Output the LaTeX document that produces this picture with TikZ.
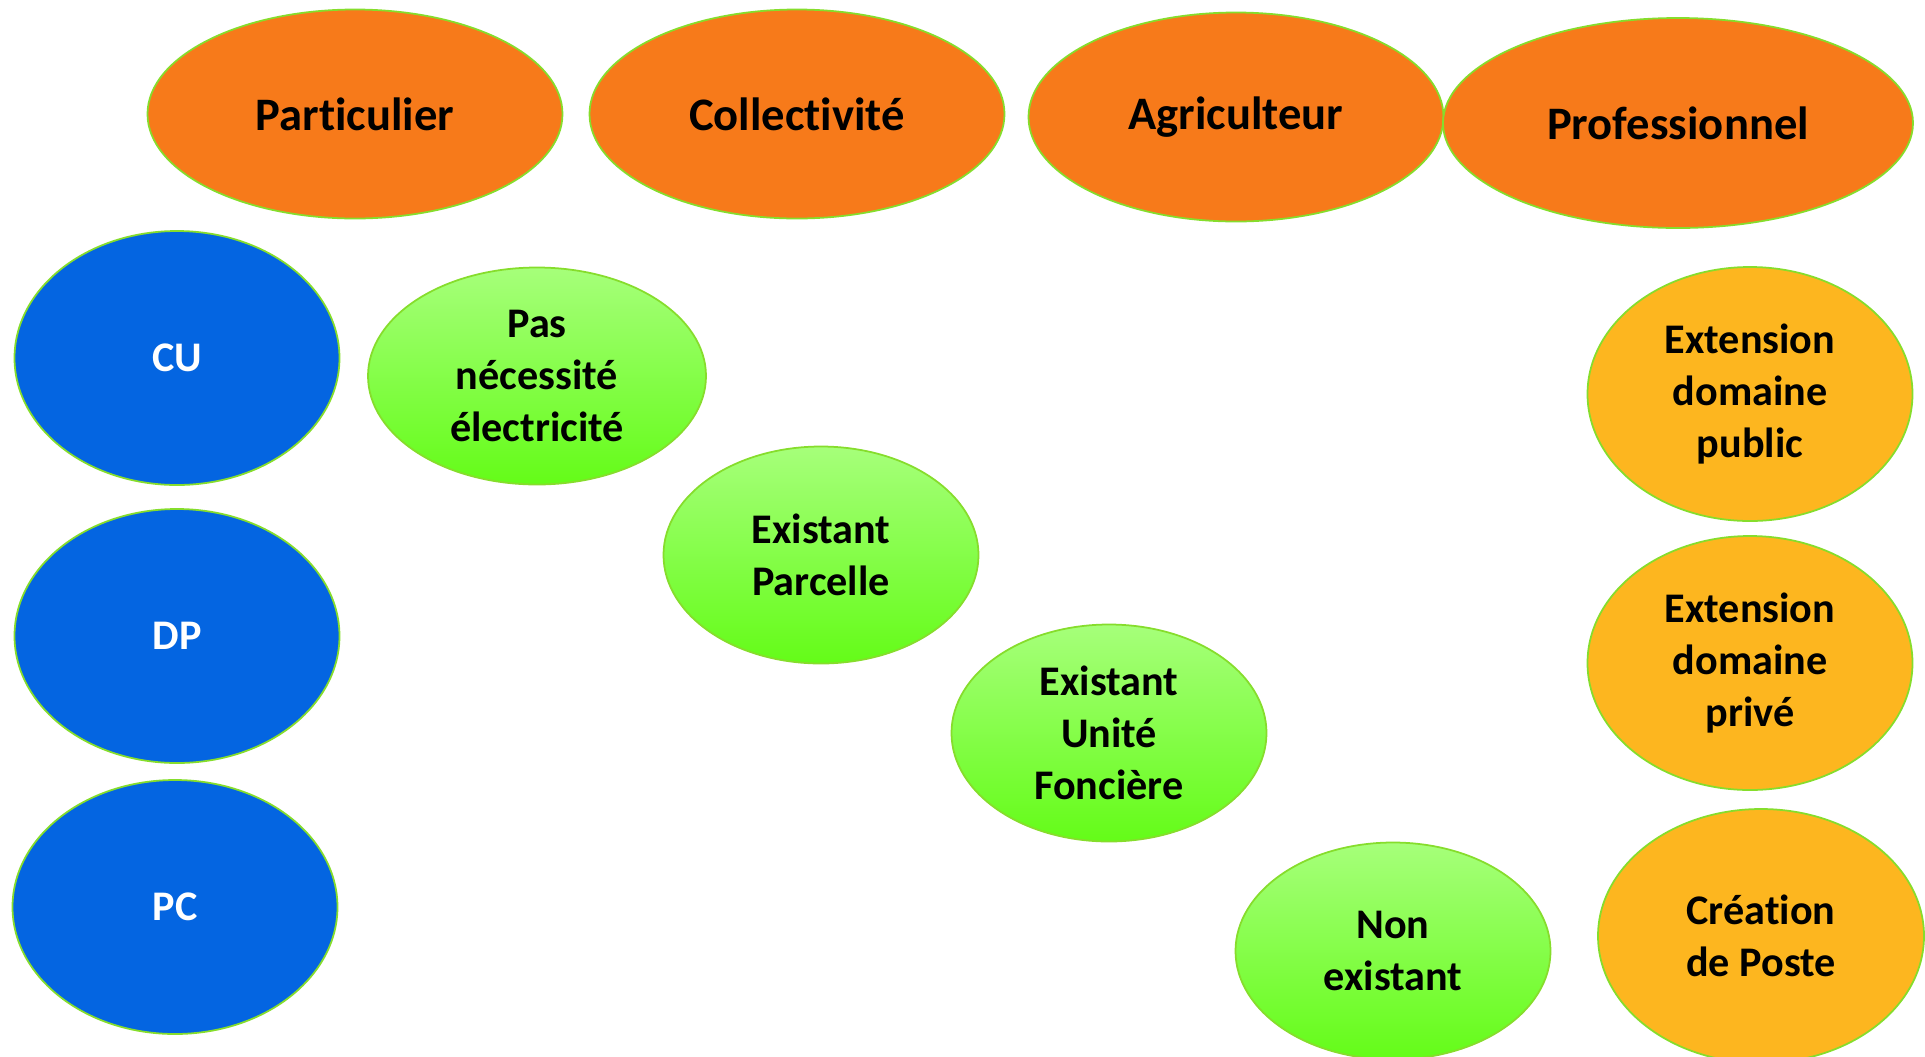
\documentclass[tikz,border=0pt]{standalone}
\usepackage{fontspec}
\setmainfont{Carlito}[RawFeature=-liga]
\usepackage{tikz}
\usetikzlibrary{shapes,calc,positioning}
\definecolor{rimgreen}{HTML}{86DD2C}
\definecolor{usagerorange}{HTML}{F77A1A}
\definecolor{actblue}{HTML}{0465E1}
\definecolor{resamber}{HTML}{FDB61F}
\definecolor{lightgreen}{HTML}{A6FF7A}
\definecolor{deepgreen}{HTML}{64FC18}
\tikzset{
	bubble/.style ={ellipse, draw=rimgreen, line width=1pt, inner sep=-1cm,
		align=center, font=\fontsize{24}{29.5}\selectfont\bfseries},
	usager/.style ={bubble, fill=usagerorange, minimum width=8.3cm, minimum height=4.18cm,
		font=\fontsize{26.5}{29.5}\selectfont\bfseries},
	acte/.style ={bubble, fill=actblue, text=white, minimum width=6.5cm, minimum height=5.08cm},
	reseau/.style ={bubble, top color=lightgreen, bottom color=deepgreen,
		minimum width=6.3cm, minimum height=4.34cm},
	travaux/.style ={bubble, fill=resamber, minimum width=6.5cm, minimum height=5.08cm}
}

\begin{document}
\begin{tikzpicture}
		\useasboundingbox (0,0) rectangle (38.5,-21.12);
		% demandeurs
		\path
		node[usager] (part) at (7.10,-2.28) {Particulier}
		node[usager] (coll) at (15.94,-2.28) {Collectivité}
		node[usager] (agri) at (24.72,-2.34) {Agriculteur}
		node[usager, minimum width=9.4cm, minimum height=4.2cm] (pro) at (33.56,-2.46) {Professionnel}
		% autorisations
		node[acte] (cu) at (3.54,-7.16) {CU}
		node[acte] (dp) at (3.54,-12.72) {DP}
		node[acte] (pc) at (3.50,-18.14) {PC}
		% etat du raccordement
		node[reseau, minimum width=6.76cm] (pas) at (10.74,-7.52) {Pas\\nécessité\\électricité}
		node[reseau] (parc) at (16.42,-11.10) {Existant\\Parcelle}
		node[reseau] (uf) at (22.18,-14.66) {Existant\\Unité\\Foncière}
		node[reseau] (non) at (27.86,-19.02) {Non\\existant}
		% travaux
		node[travaux] (pub) at (35.00,-7.88) {Extension\\domaine\\public}
		node[travaux] (priv) at (35.00,-13.26) {Extension\\domaine\\privé}
		node[travaux, minimum width=6.52cm] (poste) at (35.22,-18.72) {Création\\de Poste}
		;
\end{tikzpicture}
\end{document}
